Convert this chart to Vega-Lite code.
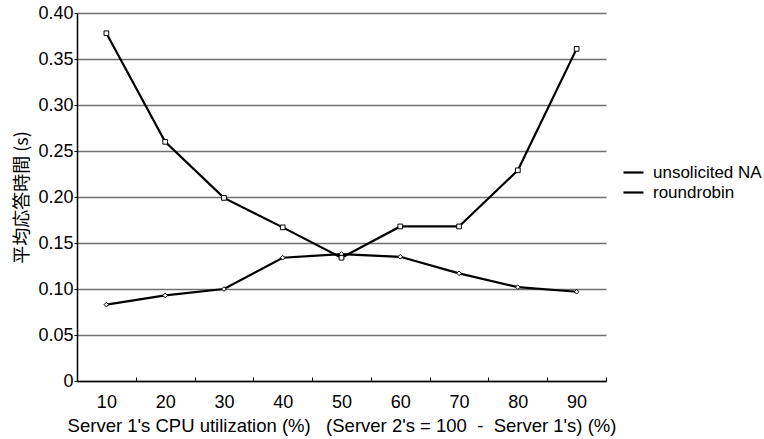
{
  "$schema": "https://vega.github.io/schema/vega-lite/v6.json",
  "width": 529,
  "height": 368,
  "autosize": "none",
  "padding": {"left": 77, "top": 13, "right": 158, "bottom": 58},
  "background": "white",
  "config": {
    "view": {"stroke": null},
    "font": "Liberation Sans"
  },
  "data": {
    "values": [
      {"cpu": 10, "series": "unsolicited NA", "t": 0.083},
      {"cpu": 20, "series": "unsolicited NA", "t": 0.093},
      {"cpu": 30, "series": "unsolicited NA", "t": 0.100},
      {"cpu": 40, "series": "unsolicited NA", "t": 0.134},
      {"cpu": 50, "series": "unsolicited NA", "t": 0.138},
      {"cpu": 60, "series": "unsolicited NA", "t": 0.135},
      {"cpu": 70, "series": "unsolicited NA", "t": 0.117},
      {"cpu": 80, "series": "unsolicited NA", "t": 0.102},
      {"cpu": 90, "series": "unsolicited NA", "t": 0.097},
      {"cpu": 10, "series": "roundrobin", "t": 0.378},
      {"cpu": 20, "series": "roundrobin", "t": 0.260},
      {"cpu": 30, "series": "roundrobin", "t": 0.199},
      {"cpu": 40, "series": "roundrobin", "t": 0.167},
      {"cpu": 50, "series": "roundrobin", "t": 0.134},
      {"cpu": 60, "series": "roundrobin", "t": 0.168},
      {"cpu": 70, "series": "roundrobin", "t": 0.168},
      {"cpu": 80, "series": "roundrobin", "t": 0.229},
      {"cpu": 90, "series": "roundrobin", "t": 0.361}
    ]
  },
  "encoding": {
    "x": {
      "field": "cpu",
      "type": "ordinal",
      "scale": {"type": "band", "paddingInner": 0, "paddingOuter": 0},
      "axis": {
        "title": "Server 1's CPU utilization (%)\u00a0\u00a0\u00a0(Server 2's = 100\u00a0\u00a0-\u00a0\u00a0Server 1's) (%)",
        "titleFontSize": 18.5,
        "titleFontWeight": "normal",
        "titleColor": "black",
        "titlePadding": 5,
        "labelAngle": 0,
        "labelFontSize": 18,
        "labelColor": "black",
        "labelPadding": 16,
        "domainColor": "black",
        "domainWidth": 1.5,
        "tickColor": "black",
        "tickBand": "extent",
        "tickSize": -4,
        "grid": false
      }
    },
    "y": {
      "field": "t",
      "type": "quantitative",
      "scale": {"domain": [0, 0.4]},
      "axis": {
        "title": "平均応答時間 (s)",
        "titleFont": "Noto Sans CJK JP",
        "titleFontSize": 18,
        "titleFontWeight": "normal",
        "titleColor": "black",
        "titlePadding": 6,
        "values": [0, 0.05, 0.1, 0.15, 0.2, 0.25, 0.3, 0.35, 0.4],
        "labelExpr": "datum.value == 0 ? '0' : format(datum.value, '.2f')",
        "labelFontSize": 18,
        "labelColor": "black",
        "labelPadding": 1,
        "domainColor": "black",
        "domainWidth": 1.5,
        "tickColor": "black",
        "tickSize": 3,
        "grid": true,
        "gridColor": "#707070",
        "gridWidth": 1.3
      }
    }
  },
  "layer": [
    {
      "mark": {"type": "line", "strokeWidth": 2.2},
      "encoding": {
        "color": {
          "field": "series",
          "type": "nominal",
          "scale": {"domain": ["unsolicited NA", "roundrobin"], "range": ["black", "black"]},
          "legend": {
            "title": null,
            "orient": "none",
            "legendX": 545,
            "legendY": 148,
            "labelFontSize": 17,
            "labelColor": "black",
            "symbolType": "stroke",
            "symbolSize": 400,
            "symbolStrokeWidth": 2.2,
            "symbolStrokeColor": "black",
            "rowPadding": 0,
            "labelOffset": 8
          }
        }
      }
    },
    {
      "mark": {"type": "point", "filled": true, "fill": "white", "stroke": "black", "strokeWidth": 1, "opacity": 1},
      "encoding": {
        "shape": {
          "field": "series",
          "type": "nominal",
          "scale": {"range": ["square", "diamond"]},
          "legend": null
        },
        "size": {"value": 22}
      }
    }
  ]
}
